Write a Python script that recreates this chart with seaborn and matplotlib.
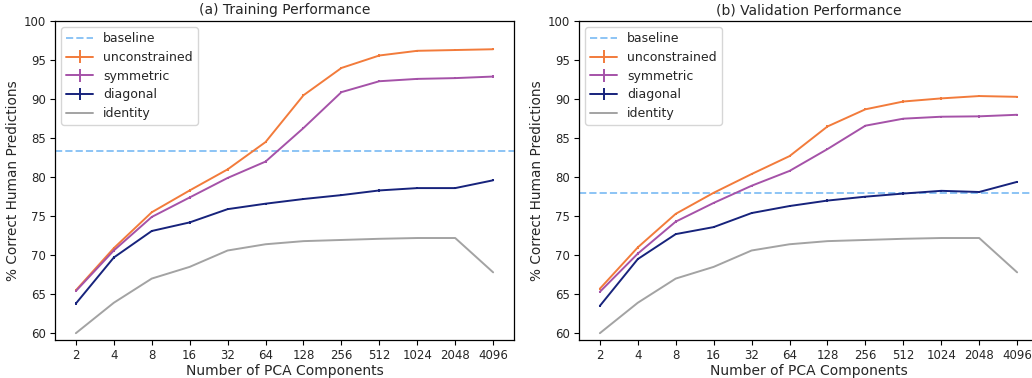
import matplotlib
matplotlib.use("Agg")
import matplotlib.pyplot as plt
import seaborn as sns

sns.set_style("ticks")
plt.rcParams["font.family"] = ["DejaVu Sans"]

components = ["2", "4", "8", "16", "32", "64", "128", "256", "512", "1024", "2048", "4096"]

# --- training ---
train_baseline = 83.3
train_unconstrained = [65.5, 70.9, 75.5, 78.3, 81.0, 84.5, 90.5, 94.0, 95.6, 96.2, 96.3, 96.4]
train_symmetric = [65.4, 70.6, 74.9, 77.4, 79.9, 82.0, 86.3, 90.9, 92.3, 92.6, 92.7, 92.9]
train_diagonal = [63.8, 69.7, 73.1, 74.2, 75.9, 76.6, 77.2, 77.7, 78.3, 78.6, 78.6, 79.6]
train_identity = [60.0, 63.9, 67.0, 68.5, 70.6, 71.4, 71.8, 71.95, 72.1, 72.2, 72.2, 67.8]

# --- validation ---
val_baseline = 78.0
val_unconstrained = [65.7, 71.0, 75.3, 78.0, 80.4, 82.7, 86.5, 88.7, 89.7, 90.1, 90.4, 90.3]
val_symmetric = [65.3, 70.2, 74.3, 76.7, 78.9, 80.8, 83.6, 86.6, 87.5, 87.75, 87.8, 88.0]
val_diagonal = [63.5, 69.5, 72.7, 73.6, 75.4, 76.3, 77.0, 77.5, 77.9, 78.25, 78.1, 79.4]
val_identity = [60.0, 63.9, 67.0, 68.5, 70.6, 71.4, 71.8, 71.95, 72.1, 72.2, 72.2, 67.8]

# small standard errors
err = [0.15] * 12

colors = {
    "baseline": "#8cc4f5",
    "unconstrained": "#f27b3b",
    "symmetric": "#a552a8",
    "diagonal": "#17237c",
    "identity": "#a3a3a3",
}

fig, axes = plt.subplots(1, 2, figsize=(10.32, 3.78), dpi=100)

panels = [
    ("(a) Training Performance", train_baseline, train_unconstrained, train_symmetric, train_diagonal, train_identity),
    ("(b) Validation Performance", val_baseline, val_unconstrained, val_symmetric, val_diagonal, val_identity),
]

x = list(range(len(components)))
for ax, (title, base, unc, sym, diag, ident) in zip(axes, panels):
    h_base = ax.axhline(base, color=colors["baseline"], linestyle="--", lw=1.4, label="baseline")
    h_unc = ax.errorbar(x, unc, yerr=err, color=colors["unconstrained"], lw=1.4, label="unconstrained")
    h_sym = ax.errorbar(x, sym, yerr=err, color=colors["symmetric"], lw=1.4, label="symmetric")
    h_diag = ax.errorbar(x, diag, yerr=err, color=colors["diagonal"], lw=1.4, label="diagonal")
    sns.lineplot(x=x, y=ident, ax=ax, color=colors["identity"], lw=1.4, label="identity", legend=False)
    h_id = ax.get_lines()[-1]

    ax.set_xticks(x)
    ax.set_xticklabels(components)
    ax.set_xlim(-0.55, 11.55)
    ax.set_ylim(59.1, 100)
    ax.set_yticks([60, 65, 70, 75, 80, 85, 90, 95, 100])
    ax.tick_params(labelsize=8.5, length=3.5, color="black", pad=3)
    for s in ax.spines.values():
        s.set_color("black")
        s.set_linewidth(0.9)
    ax.set_title(title, fontsize=10, pad=5)
    ax.set_xlabel("Number of PCA Components", fontsize=10, labelpad=1)
    ax.set_ylabel("% Correct Human Predictions", fontsize=9.8, labelpad=3)
    ax.legend([h_base, h_unc, h_sym, h_diag, h_id],
              ["baseline", "unconstrained", "symmetric", "diagonal", "identity"],
              loc="upper left", fontsize=9, frameon=True, handlelength=2.15,
              labelspacing=0.45)

fig.subplots_adjust(left=0.0533, right=1.0058, top=0.944, bottom=0.1, wspace=0.1416)
plt.savefig("out.png", dpi=100)
